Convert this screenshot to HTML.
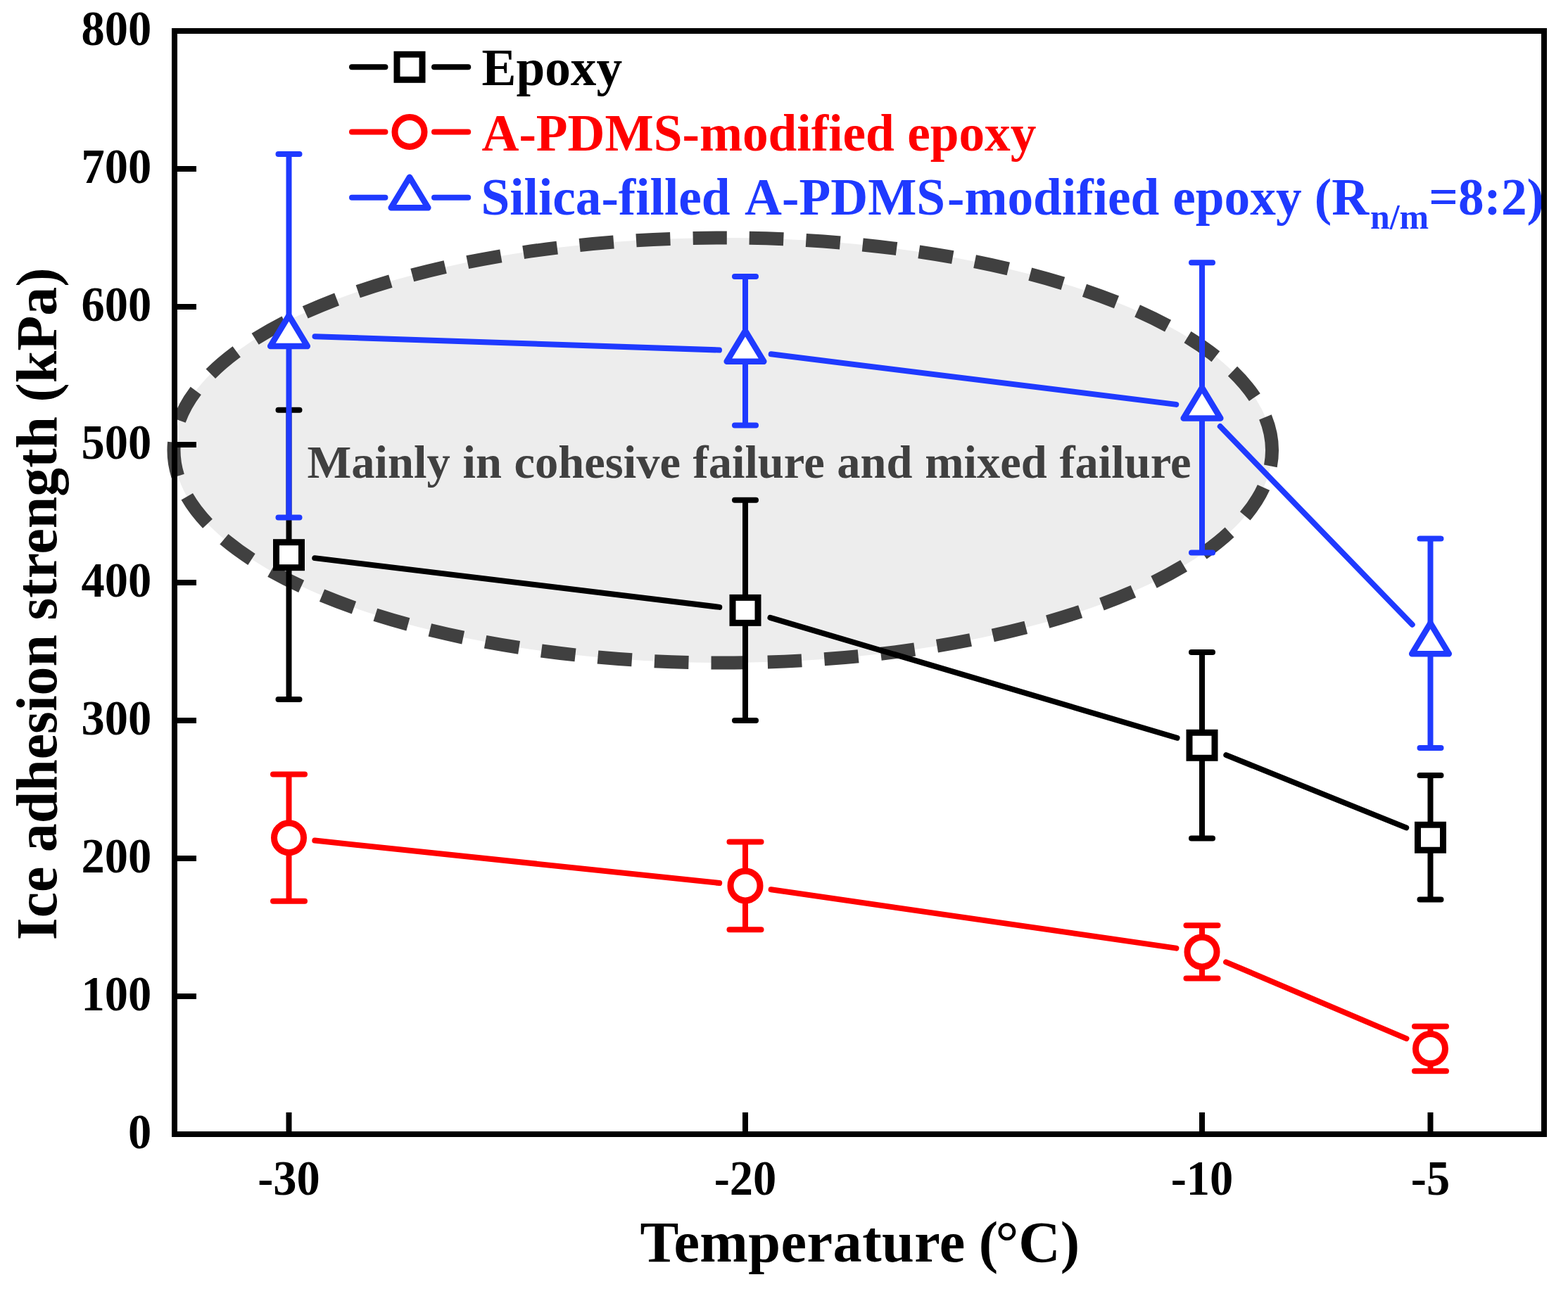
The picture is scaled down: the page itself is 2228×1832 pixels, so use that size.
<!DOCTYPE html><html><head><meta charset="utf-8"><title>Ice adhesion strength vs temperature</title>
<style>html,body{margin:0;padding:0;background:#fff;overflow:hidden;}svg{display:block;}text{font-family:"Liberation Serif", "Times New Roman", serif;font-weight:bold;}</style></head><body>
<svg width="2228" height="1832" viewBox="0 0 2228 1832">
<rect x="0" y="0" width="2228" height="1832" fill="#ffffff"/>
<path d="M 1807.50 640.00 A 780.25 302.00 0 0 0 247.00 640.00 A 780.25 302.00 0 0 0 1807.50 640.00 Z" fill="#ededed" stroke="none"/>
<path d="M 1807.50 640.00 A 780.25 302.00 0 0 0 247.00 640.00 A 780.25 302.00 0 0 0 1807.50 640.00" pathLength="3568.1" fill="none" stroke="#404040" stroke-width="19" stroke-dasharray="48.5 32.08" stroke-linecap="butt"/>
<text x="436.6" y="679" font-size="66.5" fill="#404040" word-spacing="1">Mainly in cohesive failure and mixed failure</text>
<line x1="447.23" y1="793.15" x2="1022.27" y2="862.90" stroke="#000000" stroke-width="8" stroke-linecap="round"/>
<line x1="1094.48" y1="877.84" x2="1672.52" y2="1048.76" stroke="#000000" stroke-width="8" stroke-linecap="round"/>
<line x1="1742.31" y1="1073.10" x2="1998.19" y2="1176.40" stroke="#000000" stroke-width="8" stroke-linecap="round"/>
<line x1="410.50" y1="582.80" x2="410.50" y2="994.00" stroke="#000000" stroke-width="8"/>
<line x1="395.50" y1="582.80" x2="425.50" y2="582.80" stroke="#000000" stroke-width="8" stroke-linecap="round"/>
<line x1="395.50" y1="994.00" x2="425.50" y2="994.00" stroke="#000000" stroke-width="8" stroke-linecap="round"/>
<rect x="392.50" y="770.70" width="36" height="36" fill="#fff" stroke="#000000" stroke-width="9"/>
<line x1="1059.00" y1="710.70" x2="1059.00" y2="1024.00" stroke="#000000" stroke-width="8"/>
<line x1="1044.00" y1="710.70" x2="1074.00" y2="710.70" stroke="#000000" stroke-width="8" stroke-linecap="round"/>
<line x1="1044.00" y1="1024.00" x2="1074.00" y2="1024.00" stroke="#000000" stroke-width="8" stroke-linecap="round"/>
<rect x="1041.00" y="849.35" width="36" height="36" fill="#fff" stroke="#000000" stroke-width="9"/>
<line x1="1708.00" y1="927.00" x2="1708.00" y2="1191.50" stroke="#000000" stroke-width="8"/>
<line x1="1693.00" y1="927.00" x2="1723.00" y2="927.00" stroke="#000000" stroke-width="8" stroke-linecap="round"/>
<line x1="1693.00" y1="1191.50" x2="1723.00" y2="1191.50" stroke="#000000" stroke-width="8" stroke-linecap="round"/>
<rect x="1690.00" y="1041.25" width="36" height="36" fill="#fff" stroke="#000000" stroke-width="9"/>
<line x1="2032.50" y1="1102.10" x2="2032.50" y2="1278.40" stroke="#000000" stroke-width="8"/>
<line x1="2017.50" y1="1102.10" x2="2047.50" y2="1102.10" stroke="#000000" stroke-width="8" stroke-linecap="round"/>
<line x1="2017.50" y1="1278.40" x2="2047.50" y2="1278.40" stroke="#000000" stroke-width="8" stroke-linecap="round"/>
<rect x="2014.50" y="1172.25" width="36" height="36" fill="#fff" stroke="#000000" stroke-width="9"/>
<line x1="447.30" y1="1194.57" x2="1022.20" y2="1255.03" stroke="#ff0000" stroke-width="8" stroke-linecap="round"/>
<line x1="1095.62" y1="1264.20" x2="1671.38" y2="1347.60" stroke="#ff0000" stroke-width="8" stroke-linecap="round"/>
<line x1="1742.06" y1="1367.34" x2="1998.44" y2="1476.06" stroke="#ff0000" stroke-width="8" stroke-linecap="round"/>
<line x1="410.50" y1="1100.60" x2="410.50" y2="1280.80" stroke="#ff0000" stroke-width="8"/>
<line x1="388.00" y1="1100.60" x2="433.00" y2="1100.60" stroke="#ff0000" stroke-width="8" stroke-linecap="round"/>
<line x1="388.00" y1="1280.80" x2="433.00" y2="1280.80" stroke="#ff0000" stroke-width="8" stroke-linecap="round"/>
<circle cx="410.50" cy="1190.70" r="21" fill="#fff" stroke="#ff0000" stroke-width="9"/>
<line x1="1059.00" y1="1196.40" x2="1059.00" y2="1321.30" stroke="#ff0000" stroke-width="8"/>
<line x1="1036.50" y1="1196.40" x2="1081.50" y2="1196.40" stroke="#ff0000" stroke-width="8" stroke-linecap="round"/>
<line x1="1036.50" y1="1321.30" x2="1081.50" y2="1321.30" stroke="#ff0000" stroke-width="8" stroke-linecap="round"/>
<circle cx="1059.00" cy="1258.90" r="21" fill="#fff" stroke="#ff0000" stroke-width="9"/>
<line x1="1708.00" y1="1315.30" x2="1708.00" y2="1390.50" stroke="#ff0000" stroke-width="8"/>
<line x1="1685.50" y1="1315.30" x2="1730.50" y2="1315.30" stroke="#ff0000" stroke-width="8" stroke-linecap="round"/>
<line x1="1685.50" y1="1390.50" x2="1730.50" y2="1390.50" stroke="#ff0000" stroke-width="8" stroke-linecap="round"/>
<circle cx="1708.00" cy="1352.90" r="21" fill="#fff" stroke="#ff0000" stroke-width="9"/>
<line x1="2032.50" y1="1458.70" x2="2032.50" y2="1522.30" stroke="#ff0000" stroke-width="8"/>
<line x1="2010.00" y1="1458.70" x2="2055.00" y2="1458.70" stroke="#ff0000" stroke-width="8" stroke-linecap="round"/>
<line x1="2010.00" y1="1522.30" x2="2055.00" y2="1522.30" stroke="#ff0000" stroke-width="8" stroke-linecap="round"/>
<circle cx="2032.50" cy="1490.50" r="21" fill="#fff" stroke="#ff0000" stroke-width="9"/>
<line x1="447.48" y1="478.24" x2="1022.02" y2="497.51" stroke="#1f3aff" stroke-width="8" stroke-linecap="round"/>
<line x1="1095.72" y1="503.32" x2="1671.28" y2="574.88" stroke="#1f3aff" stroke-width="8" stroke-linecap="round"/>
<line x1="1733.75" y1="606.02" x2="2006.75" y2="887.73" stroke="#1f3aff" stroke-width="8" stroke-linecap="round"/>
<line x1="410.50" y1="219.00" x2="410.50" y2="735.40" stroke="#1f3aff" stroke-width="8"/>
<line x1="395.50" y1="219.00" x2="425.50" y2="219.00" stroke="#1f3aff" stroke-width="8" stroke-linecap="round"/>
<line x1="395.50" y1="735.40" x2="425.50" y2="735.40" stroke="#1f3aff" stroke-width="8" stroke-linecap="round"/>
<path d="M 410.50 448.50 L 436.80 492.00 L 384.20 492.00 Z" fill="#fff" stroke="#1f3aff" stroke-width="8.5" stroke-linejoin="round"/>
<line x1="1059.00" y1="393.00" x2="1059.00" y2="604.50" stroke="#1f3aff" stroke-width="8"/>
<line x1="1044.00" y1="393.00" x2="1074.00" y2="393.00" stroke="#1f3aff" stroke-width="8" stroke-linecap="round"/>
<line x1="1044.00" y1="604.50" x2="1074.00" y2="604.50" stroke="#1f3aff" stroke-width="8" stroke-linecap="round"/>
<path d="M 1059.00 470.25 L 1085.30 513.75 L 1032.70 513.75 Z" fill="#fff" stroke="#1f3aff" stroke-width="8.5" stroke-linejoin="round"/>
<line x1="1708.00" y1="373.30" x2="1708.00" y2="785.60" stroke="#1f3aff" stroke-width="8"/>
<line x1="1693.00" y1="373.30" x2="1723.00" y2="373.30" stroke="#1f3aff" stroke-width="8" stroke-linecap="round"/>
<line x1="1693.00" y1="785.60" x2="1723.00" y2="785.60" stroke="#1f3aff" stroke-width="8" stroke-linecap="round"/>
<path d="M 1708.00 550.95 L 1734.30 594.45 L 1681.70 594.45 Z" fill="#fff" stroke="#1f3aff" stroke-width="8.5" stroke-linejoin="round"/>
<line x1="2032.50" y1="765.50" x2="2032.50" y2="1063.10" stroke="#1f3aff" stroke-width="8"/>
<line x1="2017.50" y1="765.50" x2="2047.50" y2="765.50" stroke="#1f3aff" stroke-width="8" stroke-linecap="round"/>
<line x1="2017.50" y1="1063.10" x2="2047.50" y2="1063.10" stroke="#1f3aff" stroke-width="8" stroke-linecap="round"/>
<path d="M 2032.50 885.80 L 2058.80 929.30 L 2006.20 929.30 Z" fill="#fff" stroke="#1f3aff" stroke-width="8.5" stroke-linejoin="round"/>
<line x1="500" y1="95.30" x2="547.4" y2="95.30" stroke="#000000" stroke-width="8" stroke-linecap="round"/>
<line x1="617" y1="95.30" x2="665.2" y2="95.30" stroke="#000000" stroke-width="8" stroke-linecap="round"/>
<rect x="564.00" y="77.30" width="36" height="36" fill="#fff" stroke="#000000" stroke-width="9"/>
<text x="684.5" y="121.40" font-size="73.3" fill="#000000">Epoxy</text>
<line x1="500" y1="187.40" x2="547.4" y2="187.40" stroke="#ff0000" stroke-width="8" stroke-linecap="round"/>
<line x1="617" y1="187.40" x2="665.2" y2="187.40" stroke="#ff0000" stroke-width="8" stroke-linecap="round"/>
<circle cx="582.00" cy="187.40" r="21" fill="#fff" stroke="#ff0000" stroke-width="9"/>
<text x="684.5" y="213.80" font-size="73.3" fill="#ff0000">A-PDMS-modified epoxy</text>
<line x1="500" y1="280.80" x2="547.4" y2="280.80" stroke="#1f3aff" stroke-width="8" stroke-linecap="round"/>
<line x1="617" y1="280.80" x2="665.2" y2="280.80" stroke="#1f3aff" stroke-width="8" stroke-linecap="round"/>
<path d="M 582.00 251.80 L 608.30 295.30 L 555.70 295.30 Z" fill="#fff" stroke="#1f3aff" stroke-width="8.5" stroke-linejoin="round"/>
<text y="305" font-size="73.3" fill="#1f3aff"><tspan x="683.4">Silica-filled </tspan><tspan x="1058.1">A-PDMS</tspan><tspan x="1346">-modified </tspan><tspan x="1666.3">epoxy </tspan><tspan x="1867.8">(R</tspan><tspan x="1946.9" y="325.4" font-size="50">n/m</tspan><tspan x="2030.2" y="305">=</tspan><tspan x="2071.9">8:2)</tspan></text>
<rect x="248" y="44" width="1946" height="1568" fill="none" stroke="#000" stroke-width="8"/>
<text transform="translate(215.2 1631.50) scale(1 1.055)" font-size="66.5" text-anchor="end" fill="#000">0</text>
<line x1="248" y1="1416.00" x2="279" y2="1416.00" stroke="#000" stroke-width="8"/>
<text transform="translate(215.2 1435.50) scale(1 1.055)" font-size="66.5" text-anchor="end" fill="#000">100</text>
<line x1="248" y1="1220.00" x2="279" y2="1220.00" stroke="#000" stroke-width="8"/>
<text transform="translate(215.2 1239.50) scale(1 1.055)" font-size="66.5" text-anchor="end" fill="#000">200</text>
<line x1="248" y1="1024.00" x2="279" y2="1024.00" stroke="#000" stroke-width="8"/>
<text transform="translate(215.2 1043.50) scale(1 1.055)" font-size="66.5" text-anchor="end" fill="#000">300</text>
<line x1="248" y1="828.00" x2="279" y2="828.00" stroke="#000" stroke-width="8"/>
<text transform="translate(215.2 847.50) scale(1 1.055)" font-size="66.5" text-anchor="end" fill="#000">400</text>
<line x1="248" y1="632.00" x2="279" y2="632.00" stroke="#000" stroke-width="8"/>
<text transform="translate(215.2 651.50) scale(1 1.055)" font-size="66.5" text-anchor="end" fill="#000">500</text>
<line x1="248" y1="436.00" x2="279" y2="436.00" stroke="#000" stroke-width="8"/>
<text transform="translate(215.2 455.50) scale(1 1.055)" font-size="66.5" text-anchor="end" fill="#000">600</text>
<line x1="248" y1="240.00" x2="279" y2="240.00" stroke="#000" stroke-width="8"/>
<text transform="translate(215.2 259.50) scale(1 1.055)" font-size="66.5" text-anchor="end" fill="#000">700</text>
<text transform="translate(215.2 63.50) scale(1 1.055)" font-size="66.5" text-anchor="end" fill="#000">800</text>
<line x1="410.50" y1="1612" x2="410.50" y2="1581" stroke="#000" stroke-width="8"/>
<text transform="translate(410.50 1697.5) scale(1 1.055)" font-size="66.5" text-anchor="middle" fill="#000">-30</text>
<line x1="1059.00" y1="1612" x2="1059.00" y2="1581" stroke="#000" stroke-width="8"/>
<text transform="translate(1059.00 1697.5) scale(1 1.055)" font-size="66.5" text-anchor="middle" fill="#000">-20</text>
<line x1="1708.00" y1="1612" x2="1708.00" y2="1581" stroke="#000" stroke-width="8"/>
<text transform="translate(1708.00 1697.5) scale(1 1.055)" font-size="66.5" text-anchor="middle" fill="#000">-10</text>
<line x1="2032.50" y1="1612" x2="2032.50" y2="1581" stroke="#000" stroke-width="8"/>
<text transform="translate(2032.50 1697.5) scale(1 1.055)" font-size="66.5" text-anchor="middle" fill="#000">-5</text>
<text y="1793.4" font-size="82.3" fill="#000"><tspan x="909.6" letter-spacing="0.45">Temperature</tspan><tspan x="1390.8">(</tspan><tspan x="1414.45">°C)</tspan></text>
<text transform="translate(80.4 858.4) rotate(-90)" x="0" y="0" font-size="81.85" text-anchor="middle" fill="#000">Ice adhesion strength (kPa)</text>
</svg></body></html>
